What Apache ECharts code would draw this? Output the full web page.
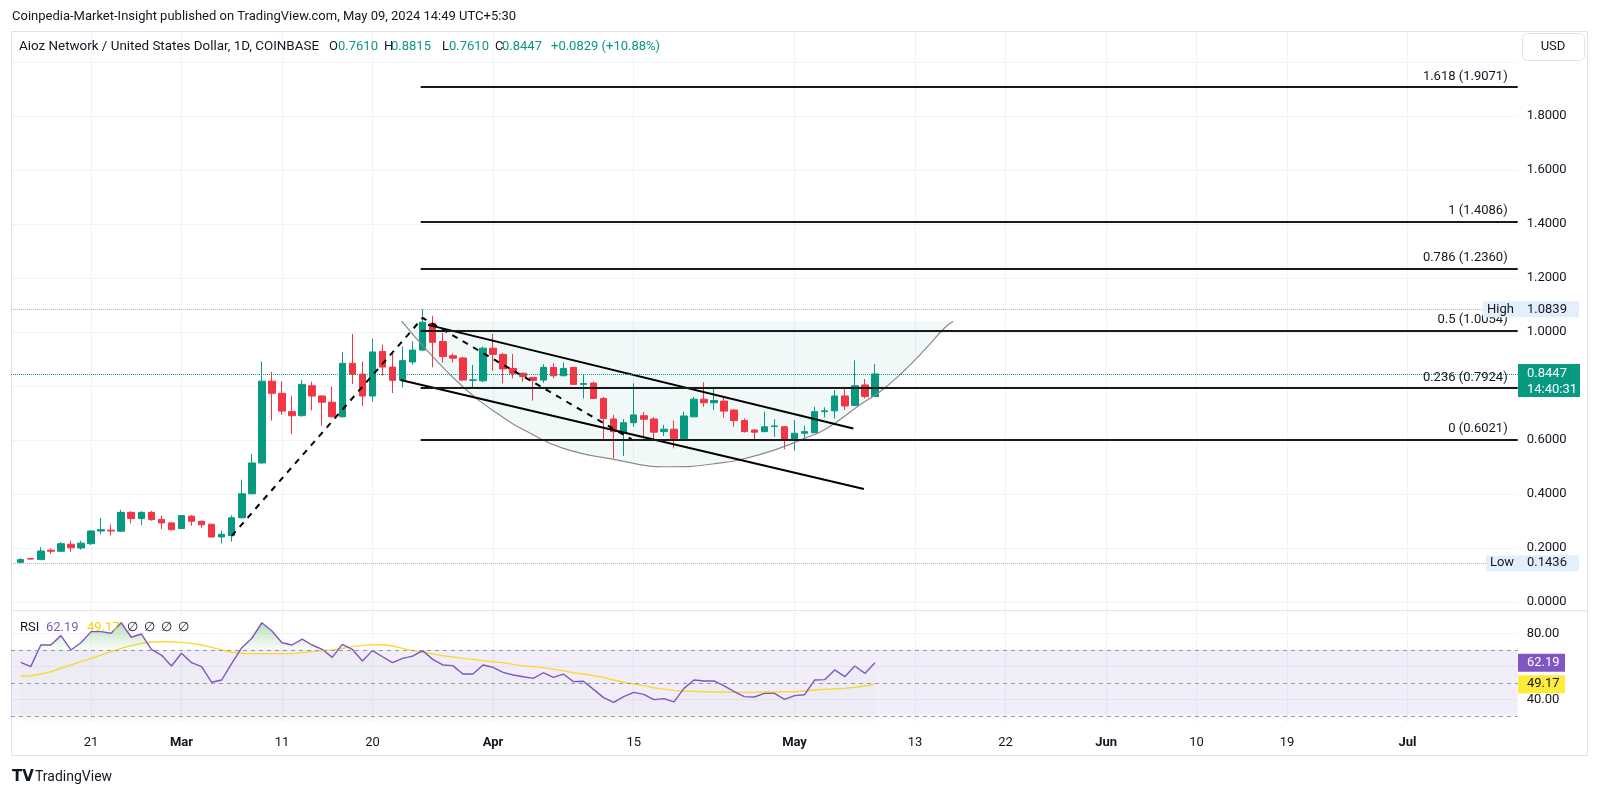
<!DOCTYPE html>
<html><head><meta charset="utf-8">
<script src="https://cdn.jsdelivr.net/npm/echarts@6/dist/echarts.min.js"></script>
<style>html,body{margin:0;padding:0;background:#fff}#c{width:1600px;height:796px}</style>
</head><body><div id="c"></div>
<script>
// ---- data (day index 0 = 2024-02-14, one candle per day) ----
const opens  = [0.147,0.161,0.157,0.192,0.188,0.214,0.200,0.216,0.263,0.266,0.262,0.332,0.309,0.332,0.306,0.293,0.272,0.318,0.299,0.288,0.241,0.246,0.312,0.401,0.515,0.818,0.773,0.705,0.690,0.801,0.763,0.740,0.686,0.884,0.844,0.763,0.928,0.870,0.821,0.889,0.933,1.032,0.965,0.912,0.904,0.821,0.819,0.940,0.917,0.865,0.847,0.832,0.822,0.869,0.838,0.869,0.806,0.811,0.754,0.678,0.627,0.664,0.690,0.678,0.631,0.640,0.606,0.686,0.751,0.738,0.744,0.711,0.672,0.637,0.631,0.650,0.649,0.604,0.625,0.627,0.705,0.708,0.763,0.728,0.804,0.7610];
const highs  = [0.162,0.163,0.203,0.199,0.222,0.227,0.227,0.266,0.312,0.287,0.341,0.336,0.336,0.338,0.320,0.297,0.322,0.322,0.302,0.290,0.265,0.321,0.453,0.548,0.891,0.852,0.818,0.764,0.822,0.816,0.765,0.797,0.925,0.993,0.891,0.975,0.954,0.925,0.946,0.965,1.0839,1.060,0.997,0.921,0.908,0.878,0.946,0.993,0.922,0.919,0.850,0.833,0.881,0.884,0.887,0.870,0.844,0.816,0.760,0.693,0.677,0.810,0.703,0.684,0.656,0.672,0.705,0.760,0.814,0.791,0.763,0.715,0.680,0.640,0.705,0.677,0.652,0.674,0.653,0.723,0.721,0.785,0.795,0.895,0.826,0.8815];
const lows   = [0.1436,0.157,0.155,0.178,0.186,0.186,0.194,0.211,0.251,0.246,0.260,0.291,0.285,0.301,0.270,0.265,0.270,0.282,0.275,0.238,0.217,0.2235,0.310,0.398,0.512,0.672,0.693,0.621,0.687,0.710,0.653,0.683,0.683,0.807,0.726,0.742,0.838,0.774,0.795,0.879,0.930,0.869,0.886,0.886,0.820,0.795,0.814,0.856,0.810,0.828,0.816,0.746,0.812,0.828,0.836,0.804,0.754,0.752,0.600,0.532,0.541,0.649,0.606,0.6021,0.615,0.569,0.604,0.684,0.723,0.711,0.683,0.649,0.628,0.600,0.629,0.612,0.566,0.560,0.604,0.626,0.684,0.680,0.711,0.726,0.754,0.7610];
const closes = [0.157,0.159,0.189,0.188,0.216,0.201,0.218,0.263,0.268,0.263,0.332,0.309,0.332,0.305,0.293,0.268,0.320,0.299,0.286,0.241,0.251,0.312,0.401,0.515,0.818,0.773,0.707,0.690,0.806,0.763,0.740,0.686,0.884,0.844,0.763,0.926,0.870,0.821,0.894,0.933,1.036,0.962,0.909,0.903,0.822,0.823,0.940,0.917,0.863,0.847,0.835,0.821,0.869,0.838,0.865,0.806,0.809,0.754,0.680,0.631,0.664,0.693,0.677,0.629,0.640,0.606,0.689,0.751,0.738,0.746,0.707,0.672,0.631,0.629,0.649,0.652,0.604,0.625,0.631,0.705,0.708,0.763,0.726,0.801,0.761,0.8447];
const rsi    = [62.4,59.8,72.9,72.9,78.6,69.9,74.3,81.0,81.0,80.0,86.4,77.6,79.6,70.3,66.8,60.2,67.9,62.2,59.8,50.3,51.7,61.8,71.3,77.0,86.4,81.4,74.3,72.9,76.5,72.9,70.3,65.4,73.3,70.3,63.2,69.5,65.8,62.2,64.8,66.2,69.5,64.2,60.8,60.4,55.3,55.3,60.8,59.4,56.3,54.7,53.7,52.7,56.1,53.3,55.3,50.7,50.9,46.0,41.0,38.2,41.6,44.2,43.0,39.8,40.4,38.4,46.6,51.7,51.1,51.1,48.1,44.6,41.6,41.4,43.6,43.6,40.0,42.2,42.8,51.7,51.9,57.8,53.7,60.2,55.7,62.19];
const rsiMA  = [54.1,54.3,55.3,56.7,58.8,60.8,62.8,64.8,66.8,68.9,70.9,72.5,73.9,74.7,74.9,74.9,74.5,73.9,72.9,71.5,69.9,68.5,67.9,67.7,67.7,67.7,67.7,67.7,68.3,68.9,69.5,69.9,70.9,71.9,72.7,73.1,73.1,72.3,70.9,69.5,68.5,67.5,66.4,65.6,64.8,64.2,63.4,62.8,62.2,61.2,60.2,59.8,59.2,58.2,57.2,56.1,55.3,54.3,53.3,51.7,50.3,49.3,48.3,47.0,46.2,45.4,45.0,44.8,44.6,44.4,44.4,44.2,44.2,44.2,44.4,44.4,44.6,44.6,45.0,45.6,46.0,46.4,46.6,47.3,48.1,49.17];
const tickDays   = [7,16,26,35,47,61,77,89,98,108,117,126,138];
const tickLabels = ['21','Mar','11','20','Apr','15','May','13','22','Jun','10','19','Jul'];
const priceTicks  = [0,0.2,0.4,0.6,0.8,1.0,1.2,1.4,1.6,1.8,2.0];
const priceLabels = [0,0.2,0.4,0.6,0.8,1.0,1.2,1.4,1.6,1.8];
const rsiTicks  = [40,60,80];
const rsiLabels = [40,80];
const rsiLevels = [70,50,30];
const fibRatios = ['1.618','1','0.786','0.5','0.236','0'];
const fibValues = [1.9071,1.4086,1.2360,1.0054,0.7924,0.6021];
const fibStartDay = 39.8;
const cupArc = [[37.9,1.04],[40.7,0.921],[44.0,0.797],[47.4,0.699],[50.7,0.625],[54.0,0.569],[59.0,0.5285],[64.5,0.501],[69.0,0.512],[73.6,0.547],[78.0,0.606],[80.2,0.643],[83.5,0.730],[85.5,0.779],[87.8,0.853],[90.1,0.940],[91.9,1.014],[92.8,1.04]];
const upperTrend = [[40.53,1.0263],[82.85,0.6426]];
const lowerTrend = [[37.8,0.8222],[83.9,0.4185]];
const fibAnchors = [[21.0,0.245],[40.0,1.052],[60.8,0.6021]];
const lastPrice = 0.8447, rangeHigh = 1.0839, rangeLow = 0.1436;
const rsiLast = 62.19, rsiMALast = 49.17;

// ---- layout ----
const xMin = -0.965, xMax = 148.96;
const UP = '#089981', DOWN = '#F23645', TXT = '#131722', GRID = '#f0f3fa';
const FONT = 'Roboto, "Noto Sans", sans-serif';

const candleData = opens.map((o,i)=>[i,o,closes[i],lows[i],highs[i]]);
const rsiData = rsi.map((v,i)=>[i,v]);
const rsiMAData = rsiMA.map((v,i)=>[i,v]);

function xAxisFor(gi){
  return {
    type:'value', gridIndex:gi, min:xMin, max:xMax,
    axisLine:{show:false},
    axisTick:{show:false, customValues:tickDays},
    splitLine:{show:true, lineStyle:{color:GRID,width:1}},
    axisLabel: gi===1 ? {
      show:true, customValues:tickDays, margin:14, color:TXT, fontSize:13, fontFamily:FONT,
      formatter: v => { const s = tickLabels[tickDays.indexOf(Math.round(v))] || ''; return isNaN(+s) ? '{m|'+s+'}' : s; },
      rich:{m:{fontWeight:'bold', color:TXT, fontSize:13, fontFamily:FONT}}
    } : {show:false}
  };
}

const hLine = (v, color, type, width) => [{coord:[xMin,v], lineStyle:{color, type, width}}, {coord:[xMax,v]}];

const option = {
  animation:false,
  backgroundColor:'#fff',
  grid:[
    {left:11, right:82.3, top:31, bottom:185.3, containLabel:false, outerBoundsMode:'none'},
    {left:11, right:82.3, top:610.7, height:111.7, containLabel:false, outerBoundsMode:'none'}
  ],
  xAxis:[xAxisFor(0), xAxisFor(1)],
  yAxis:[
    {type:'value', gridIndex:0, position:'right', min:-0.0322, max:2.1148,
     axisLine:{show:false}, axisTick:{show:false, customValues:priceTicks},
     splitLine:{show:true, lineStyle:{color:GRID}},
     axisLabel:{customValues:priceLabels, formatter:v=>v.toFixed(4), margin:9, color:TXT, fontSize:13, fontFamily:FONT}},
    {type:'value', gridIndex:1, position:'right', min:26, max:93.7,
     axisLine:{show:false}, axisTick:{show:false, customValues:rsiTicks},
     splitLine:{show:true, lineStyle:{color:GRID}},
     axisLabel:{customValues:rsiLabels, formatter:v=>v.toFixed(2), margin:9, color:TXT, fontSize:13, fontFamily:FONT}}
  ],
  series:[
    { type:'custom', xAxisIndex:0, yAxisIndex:0, z:1, silent:true,
      data:[cupArc[0]],
      renderItem:(params, api)=>({type:'polygon', shape:{points:cupArc.map(p=>api.coord(p))}, style:{fill:'rgba(0,150,120,0.06)'}}) },
    { type:'candlestick', xAxisIndex:0, yAxisIndex:0, z:2,
      dimensions:['day','open','close','lowest','highest'],
      encode:{x:'day', y:['open','close','lowest','highest']},
      data:candleData, barWidth:7,
      itemStyle:{color:UP, color0:DOWN, borderColor:UP, borderColor0:DOWN, borderWidth:1} },
    { type:'line', xAxisIndex:0, yAxisIndex:0, z:3, data:cupArc, smooth:0.5, symbol:'none', silent:true,
      lineStyle:{color:'#8a8a8a', width:1.2} },
    { type:'line', xAxisIndex:0, yAxisIndex:0, z:4, data:upperTrend, symbol:'none', silent:true, lineStyle:{color:'#000', width:2} },
    { type:'line', xAxisIndex:0, yAxisIndex:0, z:4, data:lowerTrend, symbol:'none', silent:true, lineStyle:{color:'#000', width:2} },
    { type:'line', xAxisIndex:0, yAxisIndex:0, z:4, data:fibAnchors, symbol:'none', silent:true, lineStyle:{color:'#000', width:2, type:[6,6]} },
    { type:'line', xAxisIndex:0, yAxisIndex:0, z:4, data:[], silent:true,
      markLine:{ silent:true, symbol:['none','none'], animation:false,
        lineStyle:{color:'#1a1a1a', width:2, type:'solid'},
        label:{show:true, position:'insideEndTop', formatter:'{b}', color:TXT, fontSize:13, fontFamily:FONT, distance:[10,4]},
        data: fibValues.map((v,k)=>[{name:fibRatios[k]+' ('+v.toFixed(4)+')', coord:[fibStartDay,v]},{coord:[xMax,v]}])
      } },
    { type:'line', xAxisIndex:0, yAxisIndex:0, z:3, data:[], silent:true,
      markLine:{ silent:true, symbol:['none','none'], animation:false, label:{show:false},
        data:[ hLine(rangeHigh,'#b2b5be','dotted',1), hLine(rangeLow,'#b2b5be','dotted',1), hLine(lastPrice,UP,'dotted',1) ] } },
    { id:'rsi', type:'line', xAxisIndex:1, yAxisIndex:1, z:4, data:rsiData, symbol:'none', silent:true,
      lineStyle:{color:'#7E57C2', width:1.4},
      areaStyle:{color:'rgba(0,0,0,0)'},
      markLine:{ silent:true, symbol:['none','none'], animation:false, label:{show:false},
        lineStyle:{color:'#9598a1', type:[4,4], width:1},
        data: rsiLevels.map(v=>[{coord:[xMin,v]},{coord:[xMax,v]}]) },
      markArea:{ silent:true, itemStyle:{color:'rgba(126,87,194,0.1)'}, data:[[{coord:[xMin,70]},{coord:[xMax,30]}]] } },
    { type:'line', xAxisIndex:1, yAxisIndex:1, z:3, data:rsiMAData, symbol:'none', silent:true,
      lineStyle:{color:'#FDD835', width:1.4} }
  ]
};

const chart = echarts.init(document.getElementById('c'));
chart.setOption(option);

const py = v => chart.convertToPixel({yAxisIndex:0}, v);
const ry = v => chart.convertToPixel({yAxisIndex:1}, v);
const y90 = ry(88), y70 = ry(70);

const T = (text, x, y, fill, extra) => Object.assign({type:'text', x, y, z:100, silent:true,
  style:{text, fill:fill||TXT, font:'13px '+FONT, align:'left', verticalAlign:'middle'}}, extra||{});
const R = (x, y, w, h, fill, stroke, r) => ({type:'rect', z:99, silent:true, shape:{x,y,width:w,height:h,r:r||0}, style:{fill, stroke:stroke||null, lineWidth:1}});

const yH = py(rangeHigh), yL = py(rangeLow), yP = py(lastPrice), yR = ry(rsiLast), yM = ry(rsiMALast);
const graphics = [
  {type:'rect', z:0, silent:true, shape:{x:11.5,y:31.5,width:1576,height:724}, style:{fill:'none', stroke:'#e0e3eb', lineWidth:1}},
  {type:'line', z:50, silent:true, shape:{x1:11,y1:610.7,x2:1588,y2:610.7}, style:{stroke:'#e0e3eb', lineWidth:1}},
  T('Coinpedia-Market-Insight published on TradingView.com, May 09, 2024 14:49 UTC+5:30', 12, 17),
  T('Aioz Network / United States Dollar, 1D, COINBASE', 19, 47, TXT, {style:{text:'Aioz Network / United States Dollar, 1D, COINBASE', fill:TXT, font:'13.4px '+FONT, align:'left', verticalAlign:'middle'}}),
  T('O', 329, 47), T(opens[opens.length-1].toFixed(4), 338, 47, UP),
  T('H', 384, 47), T(highs[highs.length-1].toFixed(4), 391, 47, UP),
  T('L', 442, 47), T(lows[lows.length-1].toFixed(4), 449, 47, UP),
  T('C', 495, 47), T(closes[closes.length-1].toFixed(4), 502, 47, UP),
  T('+0.0829 (+10.88%)', 551, 47, UP),
  R(1522.5, 33.5, 62, 27, '#fff', '#e0e3eb', 5),
  T('USD', 1553, 47, TXT, {style:{text:'USD', fill:TXT, font:'13px '+FONT, align:'center', verticalAlign:'middle'}}),
  T('RSI', 20, 628), T(rsiLast.toFixed(2), 46, 628, '#7E57C2'), T(rsiMALast.toFixed(2), 87, 628, '#F5D300'),
  T('\u2205', 127, 628), T('\u2205', 144, 628), T('\u2205', 161, 628), T('\u2205', 178, 628),
  // High / Low / last price tags
  R(1483, yH-8, 35, 16, '#e3effd'), T('High', 1500.5, yH, TXT, {style:{text:'High', fill:TXT, font:'13px '+FONT, align:'center', verticalAlign:'middle'}}),
  R(1518, yH-8, 61, 16, '#e3effd'), T(rangeHigh.toFixed(4), 1527, yH),
  R(1486, yL-8, 32, 16, '#e3effd'), T('Low', 1502, yL, TXT, {style:{text:'Low', fill:TXT, font:'13px '+FONT, align:'center', verticalAlign:'middle'}}),
  R(1518, yL-8, 61, 16, '#e3effd'), T(rangeLow.toFixed(4), 1527, yL),
  R(1518, yP-10, 62, 33, UP), T(lastPrice.toFixed(4), 1527, yP, '#fff'), T('14:40:31', 1527, yP+16, '#fff'),
  R(1518, yR-9, 47, 18, '#7E57C2'), T(rsiLast.toFixed(2), 1527, yR, '#fff'),
  R(1518, yM-9, 47, 18, '#FFEB3B'), T(rsiMALast.toFixed(2), 1527, yM, TXT),
  // footer logo
  T('TV', 12, 777, TXT, {style:{text:'TV', fill:TXT, font:'bold 15px "DejaVu Sans"', align:'left', verticalAlign:'middle'}}),
  T('TradingView', 35, 777, TXT, {style:{text:'TradingView', fill:TXT, font:'14px '+FONT, align:'left', verticalAlign:'middle'}})
];

chart.setOption({
  graphic: graphics,
  series:[{id:'rsi', areaStyle:{color:{type:'linear', x:0, y:y90, x2:0, y2:y70, global:true,
    colorStops:[{offset:0,color:'rgba(76,175,80,0.6)'},{offset:1,color:'rgba(76,175,80,0.04)'}]}}}]
});
</script></body></html>
